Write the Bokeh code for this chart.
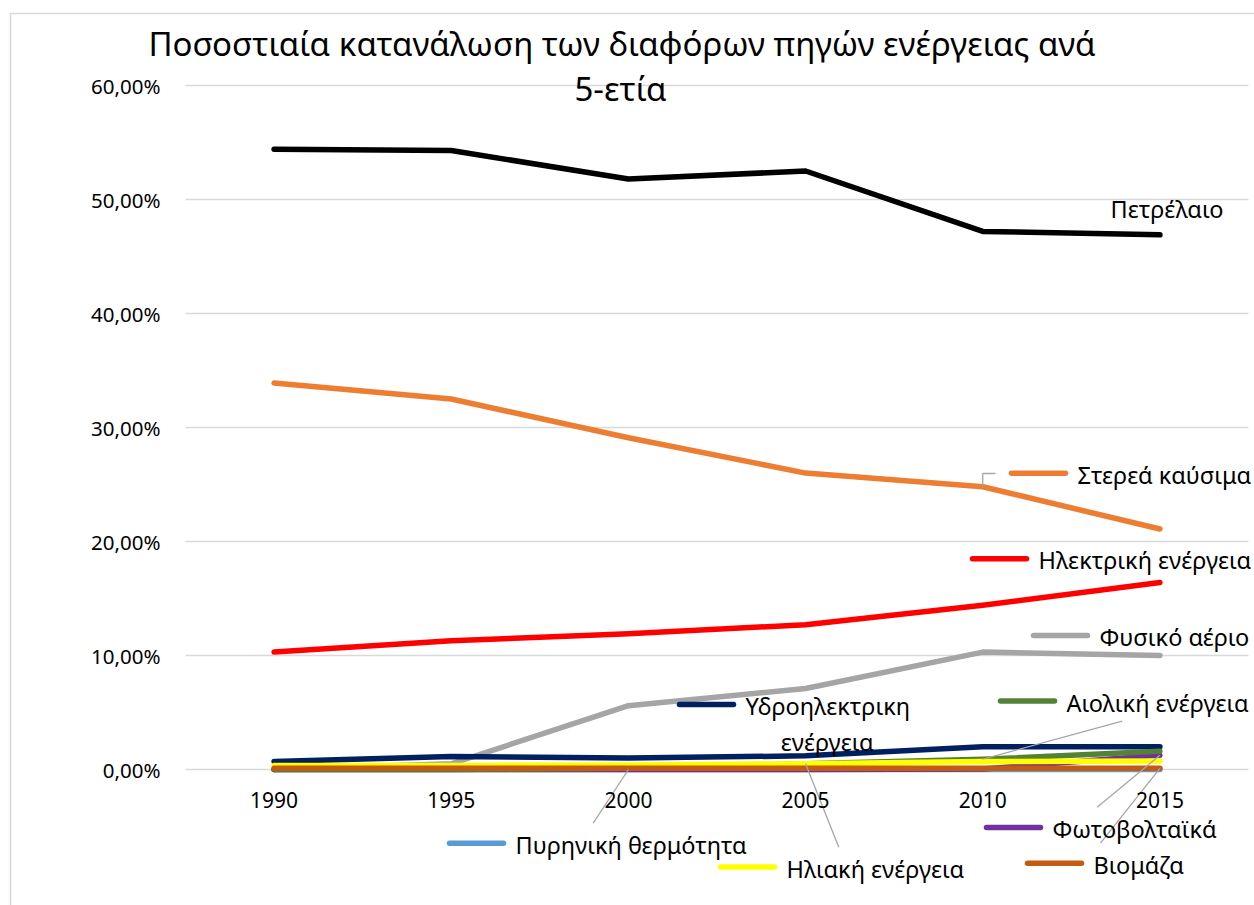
from bokeh.plotting import figure
from bokeh.models import Range1d, FixedTicker, CustomJSTickFormatter, Label
from bokeh.embed import file_html
from bokeh.resources import INLINE

# ---------------- data (percent of consumption) ----------------
years = [1990, 1995, 2000, 2005, 2010, 2015]
petrelaio = [54.4, 54.3, 51.8, 52.5, 47.2, 46.9]
sterea_kausima = [33.9, 32.5, 29.1, 26.0, 24.8, 21.1]
ilektriki = [10.3, 11.3, 11.9, 12.7, 14.4, 16.4]
fysiko_aerio = [0.0, 0.5, 5.6, 7.1, 10.3, 10.0]
ydroilektriki = [0.7, 1.15, 1.0, 1.2, 2.0, 2.0]
aioliki = [0.0, 0.0, 0.1, 0.5, 0.9, 1.6]
fotovoltaika = [0.0, 0.0, 0.0, 0.0, 0.05, 1.25]
iliaki = [0.35, 0.35, 0.4, 0.5, 0.7, 0.75]
viomaza = [0.1, 0.1, 0.1, 0.1, 0.1, 0.1]
pyriniki = [0.0, 0.0, 0.0, 0.0, 0.0, 0.0]

y_ticks = [0, 10, 20, 30, 40, 50, 60]
title_line1 = "Ποσοστιαία κατανάλωση των διαφόρων πηγών ενέργειας ανά"
title_line2 = "5-ετία"

# ---------------- layout (page pixels) ----------------
FIG_W, FIG_H = 1254, 905
PLOT_L, PLOT_R = 185, 1248          # category band edges
ZERO_PX, SIXTY_PX = 769, 85
PX_PER_PCT = (ZERO_PX - SIXTY_PX) / 60.0
X_START, X_END = 1987.5, 2017.5
PX_PER_YEAR = (PLOT_R - PLOT_L) / (X_END - X_START)


def dx(px):
    return X_START + (px - PLOT_L) / PX_PER_YEAR


def dy(py):
    return (ZERO_PX - py) / PX_PER_PCT


FONT = "Noto Sans"
LBL_SIZE = "23.5px"
TICK_SIZE = "20.5px"
LINE_W = 5.5
LEADER = "#A6A6A6"
GRID = "#D9D9D9"

p = figure(width=FIG_W, height=FIG_H,
           x_range=Range1d(dx(0), dx(FIG_W)),
           y_range=Range1d(dy(FIG_H), dy(0)),
           output_backend="svg", toolbar_location=None, title=None,
           min_border_left=0, min_border_right=0,
           min_border_top=0, min_border_bottom=0)
p.outline_line_color = None
p.background_fill_color = "white"
p.border_fill_color = "white"
p.xgrid.visible = False
p.ygrid.visible = False

# chart border (left / top)
p.line([dx(10), dx(10), dx(FIG_W + 5)], [dy(FIG_H + 5), dy(13), dy(13)],
       line_color=GRID, line_width=1.5)

# horizontal gridlines across the plot area only
p.segment(x0=[X_START] * len(y_ticks), x1=[X_END] * len(y_ticks),
          y0=y_ticks, y1=y_ticks, line_color=GRID, line_width=1.5)

# y axis pinned at the left edge of the plot area
p.yaxis.fixed_location = X_START
p.yaxis.ticker = FixedTicker(ticks=y_ticks)
p.yaxis.formatter = CustomJSTickFormatter(code="return tick.toFixed(2).replace('.', ',') + '%';")
p.yaxis.axis_line_color = None
p.yaxis.major_tick_line_color = None
p.yaxis.minor_tick_line_color = None
p.yaxis.major_tick_out = 0
p.yaxis.major_tick_in = 0
p.yaxis.major_label_standoff = 25
p.yaxis.major_label_text_font = FONT
p.yaxis.major_label_text_font_size = TICK_SIZE
p.yaxis.major_label_text_color = "black"

# x axis at zero
p.xaxis.fixed_location = 0
p.xaxis.ticker = FixedTicker(ticks=years)
p.xaxis.formatter = CustomJSTickFormatter(code="return tick.toFixed(0);")
p.xaxis.axis_line_color = None
p.xaxis.major_tick_line_color = None
p.xaxis.minor_tick_line_color = None
p.xaxis.major_tick_out = 0
p.xaxis.major_tick_in = 0
p.xaxis.major_label_standoff = 22
p.xaxis.major_label_text_font = FONT
p.xaxis.major_label_text_font_size = "21px"
p.xaxis.major_label_text_color = "black"

# ---------------- series ----------------
series = [
    ("Πυρηνική θερμότητα", pyriniki, "#5B9BD5"),
    ("Φυσικό αέριο", fysiko_aerio, "#A5A5A5"),
    ("Πετρέλαιο", petrelaio, "#000000"),
    ("Στερεά καύσιμα", sterea_kausima, "#ED7D31"),
    ("Ηλεκτρική ενέργεια", ilektriki, "#FF0000"),
    ("Υδροηλεκτρικη ενέργεια", ydroilektriki, "#002060"),
    ("Φωτοβολταϊκά", fotovoltaika, "#7030A0"),
    ("Αιολική ενέργεια", aioliki, "#548235"),
    ("Ηλιακή ενέργεια", iliaki, "#FFFF00"),
    ("Βιομάζα", viomaza, "#C55A11"),
]
colors = {name: c for name, _, c in series}
for name, vals, col in series:
    p.line(years, vals, line_color=col, line_width=LINE_W,
           line_cap="round", line_join="round")

# ---------------- leader lines ----------------
leaders = [
    ([2010, 2010, dx(995)], [sterea_kausima[4], dy(473), dy(473)]),
    ([2010, dx(1121.7)], [aioliki[4], dy(720.7)]),
    ([2000, dx(592.7)], [pyriniki[2], dy(822.7)]),
    ([2005, dx(838.3)], [iliaki[3], dy(846.7)]),
    ([2015, dx(1096.7)], [fotovoltaika[5], dy(806.7)]),
    ([2015, dx(1100)], [viomaza[5], dy(842.7)]),
]
for xs, ys in leaders:
    p.line(xs, ys, line_color=LEADER, line_width=1.3)

# ---------------- data labels (legend key + name) ----------------
# (series, text, text-left px, key-center y px, draw key)
labels = [
    ("Πετρέλαιο", "Πετρέλαιο", 1110, 207, False),
    ("Στερεά καύσιμα", "Στερεά καύσιμα", 1077, 472.7, True),
    ("Ηλεκτρική ενέργεια", "Ηλεκτρική ενέργεια", 1038, 558.3, True),
    ("Φυσικό αέριο", "Φυσικό αέριο", 1099, 635, True),
    ("Αιολική ενέργεια", "Αιολική ενέργεια", 1066, 700.5, True),
    ("Υδροηλεκτρικη ενέργεια", "Υδροηλεκτρικη", 745, 704, True),
    ("Πυρηνική θερμότητα", "Πυρηνική θερμότητα", 515, 842.7, True),
    ("Ηλιακή ενέργεια", "Ηλιακή ενέργεια", 786, 866.5, True),
    ("Φωτοβολταϊκά", "Φωτοβολταϊκά", 1052, 827, True),
    ("Βιομάζα", "Βιομάζα", 1093, 862.7, True),
]
kx0, kx1, ky = [], [], []
kcol = []
for name, text, tx, ty, key in labels:
    if key:
        kx0.append(dx(tx - 66))
        kx1.append(dx(tx - 12))
        ky.append(dy(ty))
        kcol.append(colors[name])
    p.add_layout(Label(x=dx(tx), y=dy(ty + 1.5), text=text, text_font=FONT,
                       text_font_size=LBL_SIZE, text_color="black",
                       text_align="left", text_baseline="middle"))
p.segment(x0=kx0, y0=ky, x1=kx1, y1=ky, line_color=kcol, line_width=LINE_W,
          line_cap="round")
p.add_layout(Label(x=dx(826.7), y=dy(741), text="ενέργεια", text_font=FONT,
                   text_font_size=LBL_SIZE, text_color="black",
                   text_align="center", text_baseline="middle"))

# ---------------- title ----------------
p.add_layout(Label(x=dx(621.5), y=dy(43), text=title_line1, text_font=FONT,
                   text_font_size="33px", text_color="black",
                   text_align="center", text_baseline="middle"))
p.add_layout(Label(x=dx(620), y=dy(88), text=title_line2, text_font=FONT,
                   text_font_size="33px", text_color="black",
                   text_align="center", text_baseline="middle"))

open("out.html", "w").write(file_html(p, INLINE))
